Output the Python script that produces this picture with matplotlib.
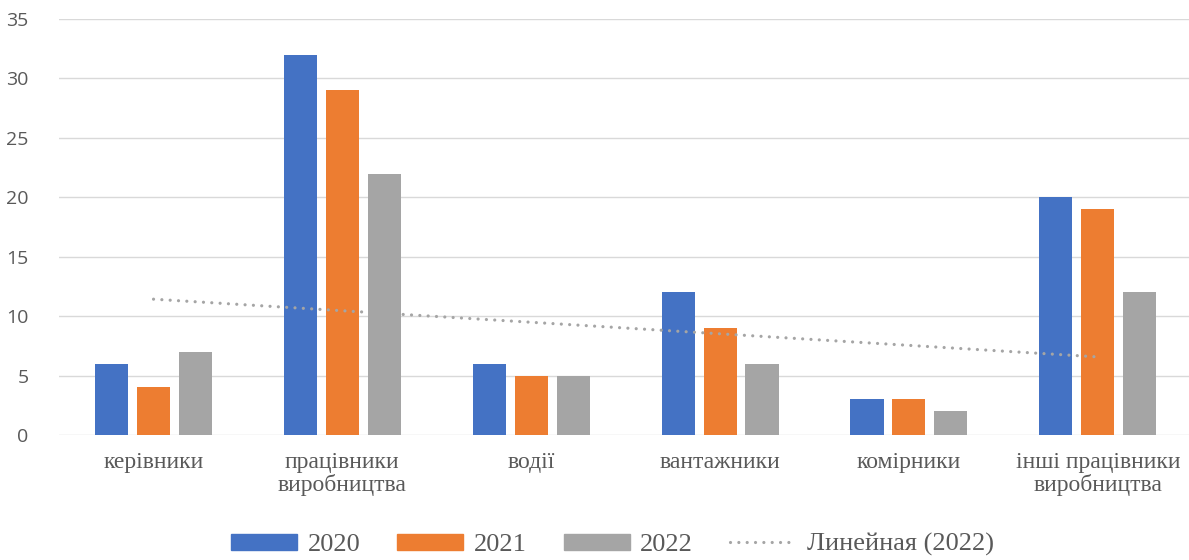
import numpy as np
import matplotlib
matplotlib.use("Agg")
import matplotlib.pyplot as plt
from matplotlib.lines import Line2D
from matplotlib.patches import Patch

categories = ["керівники", "працівники\nвиробництва", "водії", "вантажники",
              "комірники", "інші працівники\nвиробництва"]
series_names = ["2020", "2021", "2022"]
v2020 = [6, 32, 6, 12, 3, 20]
v2021 = [4, 29, 5, 9, 3, 19]
v2022 = [7, 22, 5, 6, 2, 12]
yticks = [0, 5, 10, 15, 20, 25, 30, 35]
trend_label = "Линейная (2022)"

colors = ["#4472C4", "#ED7D31", "#A5A5A5"]
txt = "#595959"

fig = plt.figure(figsize=(11.89, 5.6), dpi=100)
ax = fig.add_axes([0.0497, 0.2232, 0.953, 0.7428])

x = np.arange(len(categories))
width = 0.175
step = 0.222
for i, (vals, c) in enumerate(zip([v2020, v2021, v2022], colors)):
    ax.bar(x + (i - 1) * step, vals, width=width, color=c, zorder=3)

# linear trendline of 2022
k, b = np.polyfit(x, v2022, 1)
dot_style = (0, (0.01, 2.6))
ax.plot(x, k * x + b, color="#A5A5A5", linestyle=dot_style,
        linewidth=2.3, dash_capstyle="round", zorder=4)

ax.set_xlim(-0.5, len(categories) - 0.5)
ax.set_ylim(0, 35)
ax.set_yticks(yticks)
ax.set_yticklabels([str(t) for t in yticks], family="Open Sans", fontsize=14, color=txt)
ax.set_xticks(x)
ax.set_xticklabels(categories, family="Liberation Serif", fontsize=17, color=txt,
                   linespacing=1.05)
ax.tick_params(axis="both", length=0)
ax.tick_params(axis="x", pad=12)
ax.tick_params(axis="y", pad=22)
for s in ax.spines.values():
    s.set_visible(False)
ax.yaxis.grid(True, color="#D9D9D9", linewidth=1.0, zorder=0)
ax.set_axisbelow(True)

handles = [Patch(color=c) for c in colors] + [
    Line2D([], [], color="#A5A5A5", linestyle=dot_style, linewidth=2.3,
           dash_capstyle="round")]
labels = series_names + [trend_label]
fig.legend(handles, labels, loc="center", bbox_to_anchor=(0.515, 0.027), ncol=4,
           frameon=False, prop={"family": "Liberation Serif", "size": 19},
           labelcolor=txt, handlelength=2.5, handleheight=0.55,
           handletextpad=0.4, columnspacing=1.4)

fig.savefig("out.png", dpi=100)
